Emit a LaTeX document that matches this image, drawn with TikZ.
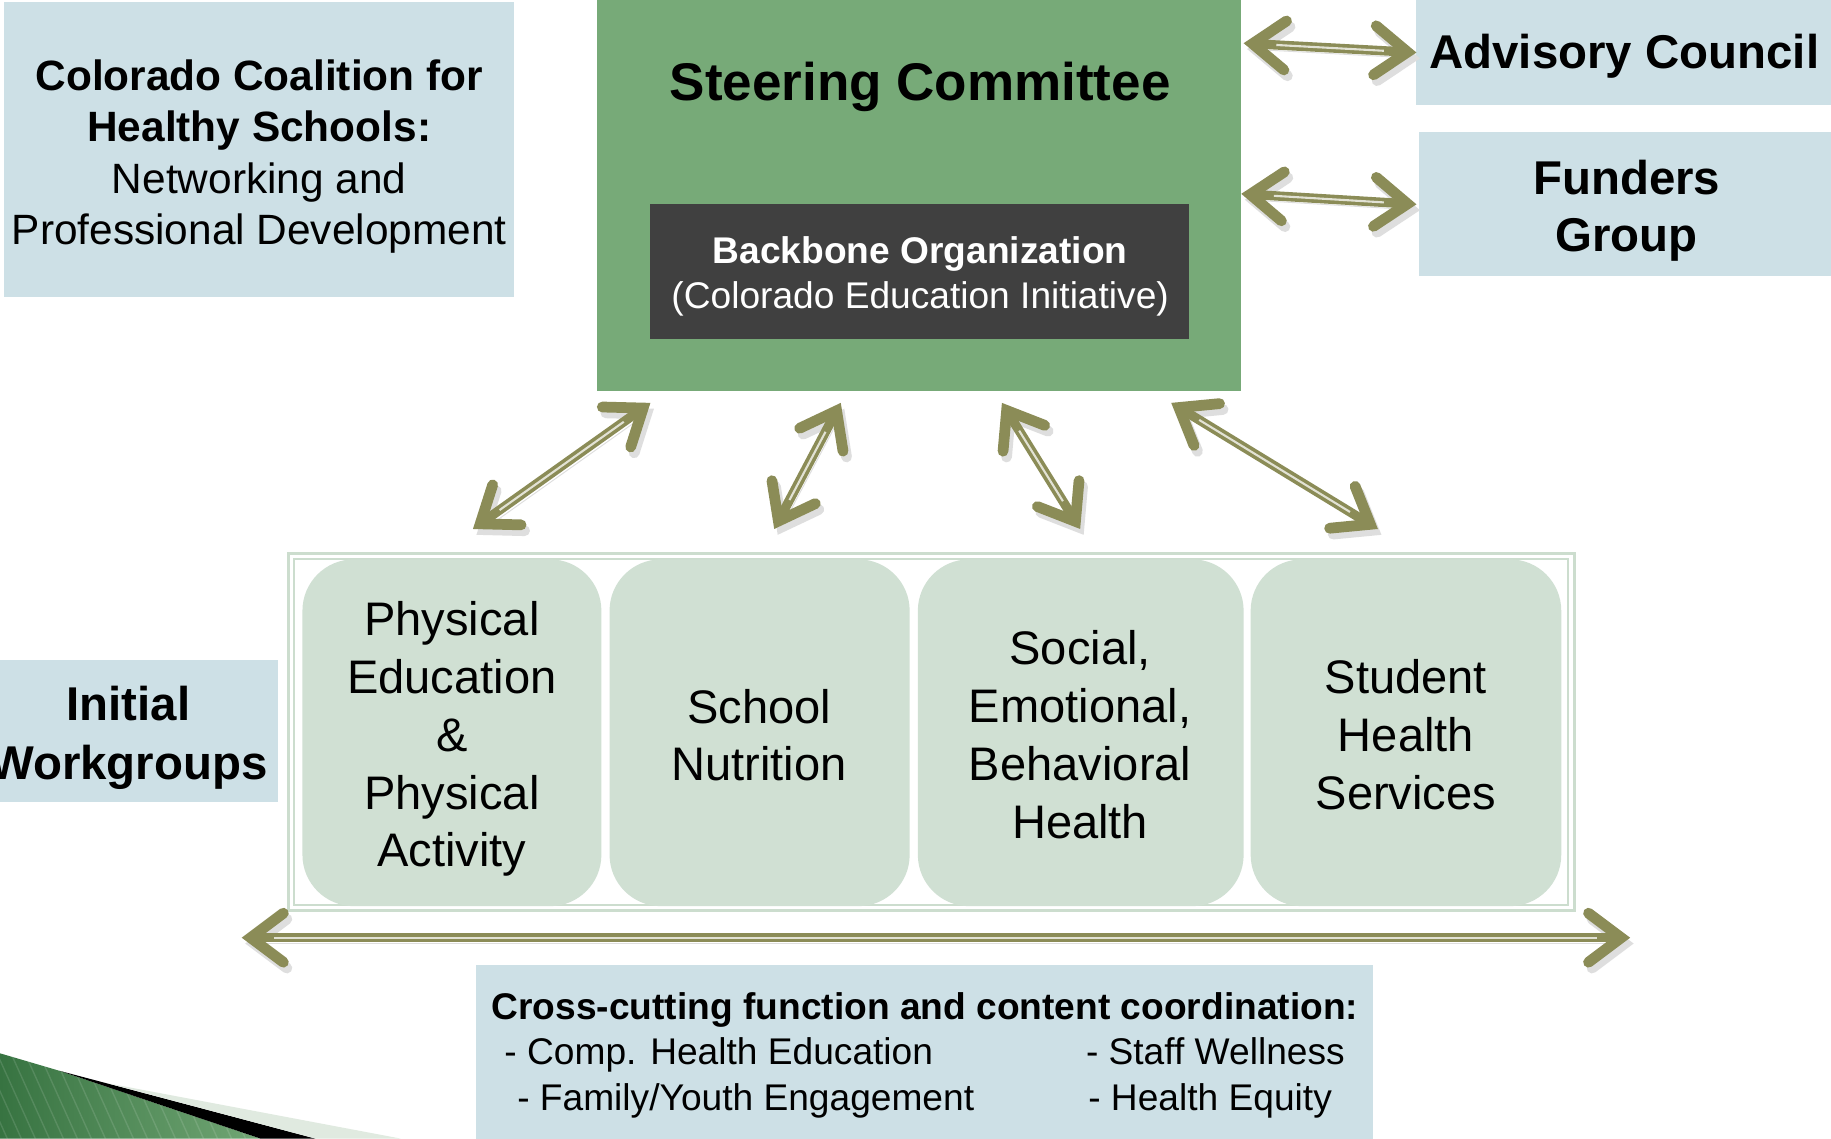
\documentclass[tikz,border=0pt]{standalone}
\usepackage{fontspec}
\setmainfont{Liberation Sans}
\usetikzlibrary{arrows.meta}
\definecolor{lblue}{RGB}{205,224,230}
\definecolor{sgreen}{RGB}{119,170,120}
\definecolor{dgray}{RGB}{64,64,64}
\definecolor{wgfill}{RGB}{208,224,211}
\definecolor{wgline}{RGB}{204,221,206}
\definecolor{olivearr}{RGB}{139,140,87}
\definecolor{hl}{RGB}{226,226,212}
\definecolor{decodark}{RGB}{55,115,65}
\definecolor{decolight}{RGB}{115,168,118}
\definecolor{decoband}{RGB}{224,234,224}
\newcommand\setfs[2]{\fontsize{#1}{#2}\selectfont}
\tikzset{
  olvtip/.tip={Straight Barb[length=14pt,width=21pt,line width=4.6pt,line cap=round,line join=miter]},
  dbl/.style={draw=olivearr, line width=4pt, olvtip-olvtip,
    preaction={draw=black!13, transform canvas={shift={(1.5pt,-2.5pt)}}},
    postaction={draw=hl, line width=0.9pt, -, shorten <=14pt, shorten >=14pt}},
  box/.style={draw=none, inner sep=0pt, outer sep=0pt},
  txt/.style={inner sep=0pt, outer sep=0pt, align=center},
  wg/.style={box, fill=wgfill, rounded corners=22pt, minimum height=148.5pt},
}
\begin{document}
\begin{tikzpicture}[x=0.5pt,y=-0.5pt]
\useasboundingbox (0,0) rectangle (1568,975);
\fill[white] (0,0) rectangle (1568,975);

% bottom-left decoration
\begin{scope}
  \clip (0,902) -- (51,917) -- (223,975) -- (0,975) -- cycle;
  \shade[left color=decodark, right color=decolight] (0,895) rectangle (230,980);
  \foreach \i in {-80,-68,...,240} \draw[white, opacity=0.12, line width=0.6pt] (\i,890) -- (\i+45,990);
\end{scope}
\fill[black] (51,917) -- (270,975) -- (223,975) -- cycle;
\fill[decoband] (94,928) -- (343,975) -- (270,975) -- cycle;

% boxes
\node[box, fill=lblue, minimum width=218.5pt, minimum height=126pt] (coal) at (221.5,128) {};
\node[box, fill=sgreen, minimum width=276pt, minimum height=167.5pt] (steer) at (787,167.5) {};
\node[box, fill=dgray, minimum width=230.5pt, minimum height=57.5pt] (bb) at (787.5,232.5) {};
\node[box, fill=lblue, minimum width=181pt, minimum height=45pt] (adv) at (1394,45) {};
\node[box, fill=lblue, minimum width=180pt, minimum height=61.5pt] (fund) at (1395,174.5) {};
\node[box, fill=lblue, minimum width=119pt, minimum height=61pt] (init) at (119,626) {};
\node[box, fill=lblue, minimum width=384pt, minimum height=82pt] (cross) at (792,908) {};

% workgroup frame
\node[draw=wgline, line width=1.3pt, minimum width=550.5pt, minimum height=153pt, inner sep=0pt] (frame) at (797.5,627) {};
\node[draw=wgline, line width=0.8pt, minimum width=545.5pt, minimum height=148pt, inner sep=0pt] (frameinner) at (797.5,627) {};

\node[wg, minimum width=128pt] (wg1) at (387,627.5) {};
\node[wg, minimum width=128.5pt] (wg2) at (650.5,627.5) {};
\node[wg, minimum width=139.5pt] (wg3) at (925.5,627.5) {};
\node[wg, minimum width=133pt] (wg4) at (1204,627.5) {};

% arrow end points
\coordinate (ac1) at (1065,37);  \coordinate (ac2) at (1213,45);
\coordinate (fg1) at (1063,166); \coordinate (fg2) at (1213,175);
\coordinate (d1a) at (557,345);  \coordinate (d1b) at (405,453);
\coordinate (d2a) at (720,345);  \coordinate (d2b) at (663,453);
\coordinate (d3a) at (858,345);  \coordinate (d3b) at (925,453);
\coordinate (d4a) at (1003,345); \coordinate (d4b) at (1180,453);
\coordinate (h1) at (207,803);   \coordinate (h2) at (1396,803);

\draw[dbl] (ac1) -- (ac2);
\draw[dbl] (fg1) -- (fg2);
\draw[dbl] (d1a) -- (d1b);
\draw[dbl] (d2a) -- (d2b);
\draw[dbl] (d3a) -- (d3b);
\draw[dbl] (d4a) -- (d4b);
\draw[dbl] (h1) -- (h2);

% texts
\node[txt, font=\setfs{18.15pt}{22pt}] (coaltxt) at (222,134)
  {\textbf{Colorado Coalition for}\\\textbf{Healthy Schools:}\\Networking and\\Professional Development};
\node[txt, font=\bfseries\setfs{22.7pt}{27pt}] (steertxt) at (788,74.5) {Steering Committee};
\node[txt, text=white, font=\setfs{15.9pt}{19.5pt}] (bbtxt) at (788,236.5)
  {\textbf{Backbone Organization}\\(Colorado Education Initiative)};
\node[txt, font=\bfseries\setfs{20.3pt}{24.5pt}] (advtxt) at (1391,48) {Advisory Council};
\node[txt, font=\bfseries\setfs{20.3pt}{24.5pt}] (fundtxt) at (1393,180.5) {Funders\\Group};
\node[txt, font=\bfseries\setfs{20.3pt}{25pt}] (inittxt) at (110,632) {Initial\\Workgroups};

\node[txt, font=\setfs{20.15pt}{24.75pt}] (wg1txt) at (387,633) {Physical\\Education\\\&\\Physical\\Activity};
\node[txt, font=\setfs{20.15pt}{24.75pt}] (wg2txt) at (650,629.5) {School\\Nutrition};
\node[txt, font=\setfs{20.15pt}{24.75pt}] (wg3txt) at (925,629) {Social,\\Emotional,\\Behavioral\\Health};
\node[txt, font=\setfs{20.15pt}{24.75pt}] (wg4txt) at (1204,629) {Student\\Health\\Services};

\node[txt, anchor=base, font=\bfseries\setfs{15.9pt}{19.5pt}] (crosstitle) at (792,873) {Cross-cutting function and content coordination:};
\node[txt, anchor=base west, font=\setfs{15.9pt}{19.5pt}] (c1) at (432,912) {- Comp. Health Education};
\node[txt, anchor=base west, font=\setfs{15.9pt}{19.5pt}] (c2) at (443,951) {- Family/Youth Engagement};
\node[txt, anchor=base west, font=\setfs{15.9pt}{19.5pt}] (c3) at (930,912) {- Staff Wellness};
\node[txt, anchor=base west, font=\setfs{15.9pt}{19.5pt}] (c4) at (932,951) {- Health Equity};
\end{tikzpicture}
\end{document}
